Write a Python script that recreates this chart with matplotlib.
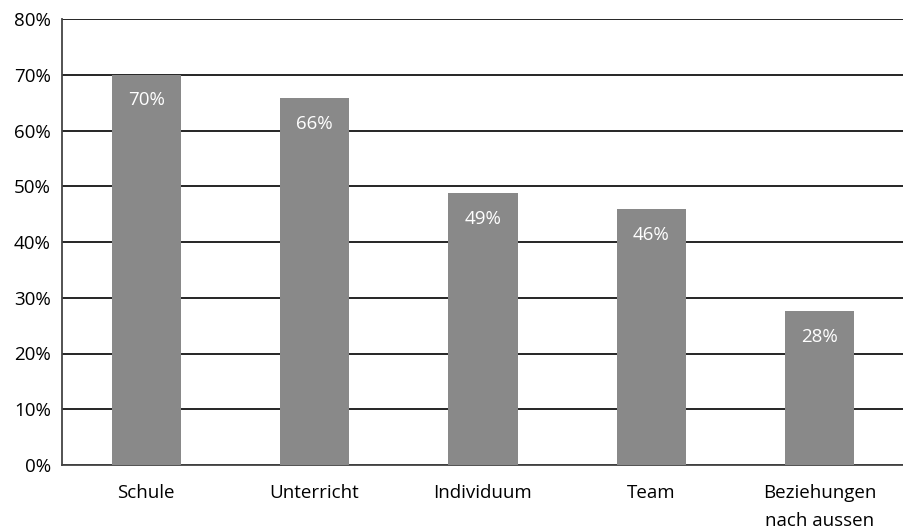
import numpy as np
import matplotlib.pyplot as plt
from matplotlib.ticker import PercentFormatter

plt.rcParams['font.family'] = ['Open Sans', 'DejaVu Sans']

categories = ["Schule", "Unterricht", "Individuum", "Team", "Beziehungen\nnach aussen"]
values = [70.0, 65.8, 48.8, 45.9, 27.6]
labels = ["70%", "66%", "49%", "46%", "28%"]

fig = plt.figure(figsize=(9.04, 5.32), dpi=100)
ax = fig.add_axes([62 / 904, 1 - 465 / 532, (904 - 62) / 904, (465 - 19) / 532])

x = np.arange(len(categories))
ax.set_axisbelow(True)
ax.yaxis.grid(True, color='black', linewidth=1.2)
bars = ax.bar(x, values, width=0.41, color='#898989', zorder=3)

for b, lab in zip(bars, labels):
    ax.text(b.get_x() + b.get_width() / 2, b.get_height() - 4.6, lab,
            ha='center', va='center', color='white', fontsize=13.5, zorder=4)

ax.set_xlim(-0.5, len(categories) - 0.5)
ax.set_ylim(0, 80)
ax.set_yticks(np.arange(0, 81, 10))
ax.yaxis.set_major_formatter(PercentFormatter(decimals=0))
ax.set_xticks(x)
ax.set_xticklabels(categories, fontsize=13.5, linespacing=1.65)
ax.tick_params(axis='y', labelsize=13.5, length=0, pad=8)
ax.tick_params(axis='x', length=0, pad=14)

for s in ['top', 'right']:
    ax.spines[s].set_visible(False)
ax.spines['left'].set_color('#444444')
ax.spines['bottom'].set_color('#444444')
ax.spines['left'].set_linewidth(1.3)
ax.spines['bottom'].set_linewidth(1.3)

fig.savefig('out.png', dpi=100)
